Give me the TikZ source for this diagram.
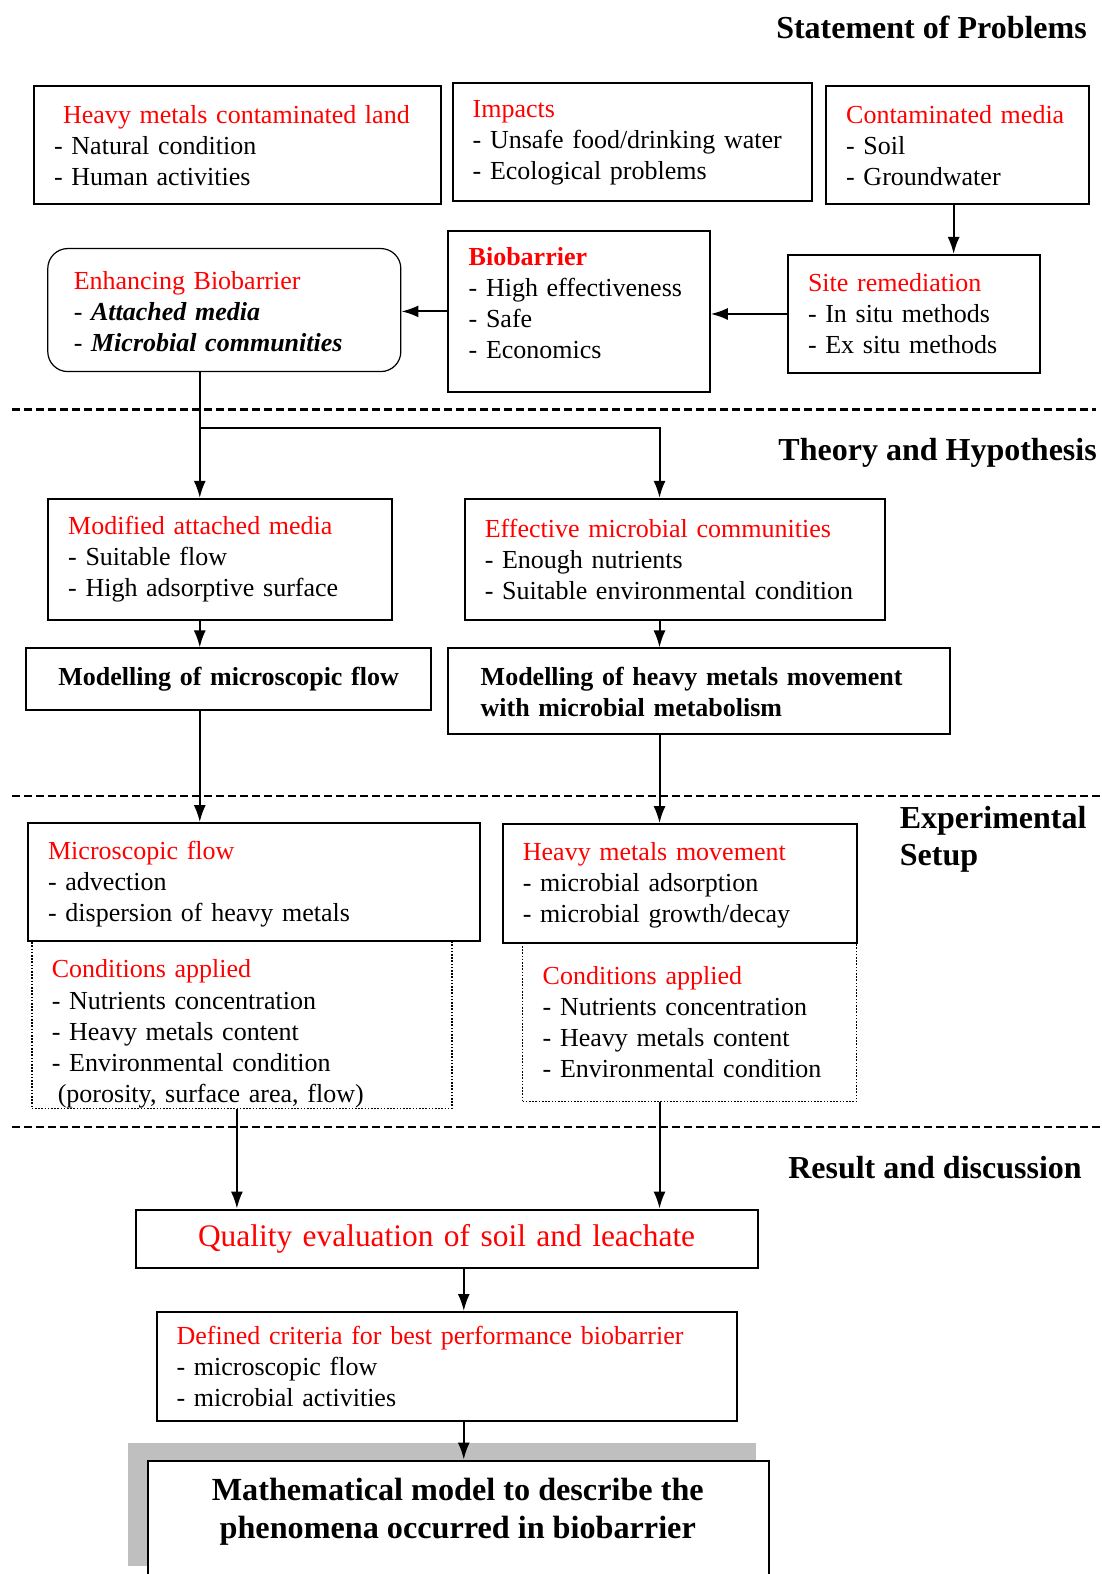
\documentclass[tikz,border=0pt]{standalone}
\usepackage{fontspec}
\setmainfont{Liberation Serif}
\usepackage{tikz}
\usetikzlibrary{arrows.meta,positioning,calc}
\newcommand{\txtfont}{\fontsize{13}{15.5}\selectfont}
\newcommand{\bigtxtfont}{\fontsize{15.7}{19}\selectfont}
\newcommand{\redhd}[1]{\textcolor{red}{#1}}
\tikzset{
box/.style = {draw, line width=1pt, fill=white, rectangle, anchor=north west, align=left, inner ysep=0pt, font=\txtfont},
roundbox/.style = {box, line width=0.6pt, rounded corners=10pt},
condbox/.style = {box, line width=0.7pt, dash pattern=on 0.8pt off 0.8pt},
boldbox/.style = {box, font=\txtfont\bfseries},
sectitle/.style = {inner sep=0pt, font=\fontsize{16}{18.5}\selectfont\bfseries},
sep/.style = {line width=1.1pt, dash pattern=on 4pt off 2pt},
arrow/.style = {->, line width=1pt}
}

\begin{document}
\begin{tikzpicture}[x=0.50183pt, y=-0.50183pt, >={Latex[length=8.5pt,width=6pt]}]
    \useasboundingbox (0,0) rectangle (1097,1568);
    \clip (0,0) rectangle (1097,1568);
    % statement of problems
    \node [sectitle, anchor=east] (stmt) at (1083,27) {Statement of Problems};
    \node [box, minimum width=203.5pt, minimum height=59pt, text width=183.5pt, inner xsep=10pt] (land) at (33,85)
        {\hspace*{4.5pt}\redhd{Heavy metals contaminated land}\\- Natural condition\\- Human activities};
    \node [box, minimum width=179.5pt, minimum height=59pt, text width=159.5pt, inner xsep=10pt] (impacts) at (450,82)
        {\redhd{Impacts}\\- Unsafe food/drinking water\\- Ecological problems};
    \node [box, minimum width=131.5pt, minimum height=59pt, text width=111.5pt, inner xsep=10pt] (media) at (822,85)
        {\redhd{Contaminated media}\\- Soil\\- Groundwater};
    \node [box, minimum width=131pt, minimum height=80.5pt, text width=110pt, inner xsep=10.5pt] (bio) at (445,229)
        {\redhd{\textbf{Biobarrier}}\\- High effectiveness\\- Safe\\- Economics\rule[-8pt]{0pt}{8pt}};
    \node [roundbox, minimum width=176.5pt, minimum height=61.5pt, text width=150.5pt, inner xsep=13pt] (enh) at (47,247)
        {\rule{0pt}{11pt}\redhd{Enhancing Biobarrier}\\- \textbf{\textit{Attached media}}\\- \textbf{\textit{Microbial communities}}};
    \node [box, minimum width=126pt, minimum height=59pt, text width=106pt, inner xsep=10pt] (site) at (784,253)
        {\redhd{Site remediation}\\- In situ methods\\- Ex situ methods};
    \coordinate (colL) at (199,0);
    \coordinate (colR) at (657,0);
    \coordinate (colQ) at (236,0);
    \coordinate (colM) at (462,0);
    \coordinate (colS) at (950,0);
    \draw [arrow] (media.south -| colS) -- (site.north -| colS);
    \draw [arrow] (site.west) -- (site.west -| bio.east);
    \draw [arrow] (bio.west) -- (bio.west -| enh.east);
    \draw [sep] (12,408) -- (1092,408);
    % theory and hypothesis
    \node [sectitle, anchor=east] (theory) at (1093,451) {Theory and Hypothesis};
    \node [box, minimum width=172pt, minimum height=60.5pt, text width=152pt, inner xsep=10pt] (modif) at (47,496)
        {\redhd{Modified attached media}\\- Suitable flow\\- High adsorptive surface};
    \node [box, minimum width=210pt, minimum height=60.5pt, text width=190pt, inner xsep=10pt] (effect) at (462,496)
        {\redhd{Effective microbial communities}\\- Enough nutrients\\- Suitable environmental condition};
    \node [boldbox, align=center, minimum width=202.5pt, minimum height=31pt, text width=182.5pt, inner xsep=10pt] (modelA) at (25,645)
        {Modelling of microscopic flow};
    \node [boldbox, minimum width=251pt, minimum height=43pt, text width=218pt, inner xsep=16.5pt] (modelB) at (445,645)
        {Modelling of heavy metals movement\\with microbial metabolism};
    \coordinate (split) at (199,426);
    \draw [arrow] (enh.south -| colL) -- (modif.north -| colL);
    \draw [arrow] (split) -- (split -| colR) -- (effect.north -| colR);
    \draw [arrow] (modif.south -| colL) -- (modelA.north -| colL);
    \draw [arrow] (effect.south -| colR) -- (modelB.north -| colR);
    \draw [sep] (12,793) -- (1097,793);
    % experimental setup
    \node [sectitle, anchor=west, align=left] (exper) at (896,836) {Experimental\\Setup};
    \node [condbox, minimum width=210pt, minimum height=83.5pt, text width=190pt, inner xsep=10pt] (cond1) at (31,937)
        {\rule{0pt}{18pt}\redhd{Conditions applied}\\- Nutrients concentration\\- Heavy metals content\\- Environmental condition\\\hspace*{3pt}(porosity, surface area, flow)};
    \node [condbox, minimum width=167pt, minimum height=79pt, text width=147pt, inner xsep=10pt] (cond2) at (520,939)
        {\redhd{Conditions applied}\\- Nutrients concentration\\- Heavy metals content\\- Environmental condition};
    \node [box, minimum width=226pt, minimum height=59pt, text width=206pt, inner xsep=10pt] (micro) at (27,819)
        {\rule{0pt}{11pt}\redhd{Microscopic flow}\\- advection\\- dispersion of heavy metals};
    \node [box, minimum width=177pt, minimum height=59.5pt, text width=157pt, inner xsep=10pt] (heavy) at (500,820)
        {\rule{0pt}{11pt}\redhd{Heavy metals movement}\\- microbial adsorption\\- microbial growth/decay};
    \draw [arrow] (modelA.south -| colL) -- (micro.north -| colL);
    \draw [arrow] (modelB.south -| colR) -- (heavy.north -| colR);
    \draw [sep] (12,1123) -- (1097,1123);
    % result and discussion
    \node [sectitle, anchor=east] (result) at (1078,1163) {Result and discussion};
    \node [box, align=center, font=\bigtxtfont, minimum width=311pt, minimum height=29pt, text width=291pt, inner xsep=10pt] (quality) at (134,1204)
        {\redhd{Quality evaluation of soil and leachate}};
    \node [box, minimum width=290pt, minimum height=54.5pt, text width=270pt, inner xsep=10pt] (crit) at (155,1306)
        {\redhd{Defined criteria for best performance biobarrier}\\- microscopic flow\\- microbial activities};
    \fill [gray!50] (128,1437) rectangle (753,1560);
    \node [box, minimum width=310.5pt, minimum height=70pt] (mathbox) at (146,1454) {};
    \node [anchor=north, inner sep=0pt, align=center, font=\fontsize{16.1}{19}\selectfont\bfseries] (math) at (456,1472)
        {Mathematical model to describe the\\phenomena occurred in biobarrier};
    \draw [arrow] (cond1.south -| colQ) -- (quality.north -| colQ);
    \draw [arrow] (cond2.south -| colR) -- (quality.north -| colR);
    \draw [arrow] (quality.south -| colM) -- (crit.north -| colM);
    \draw [arrow] (crit.south -| colM) -- (mathbox.north -| colM);
\end{tikzpicture}
\end{document}
